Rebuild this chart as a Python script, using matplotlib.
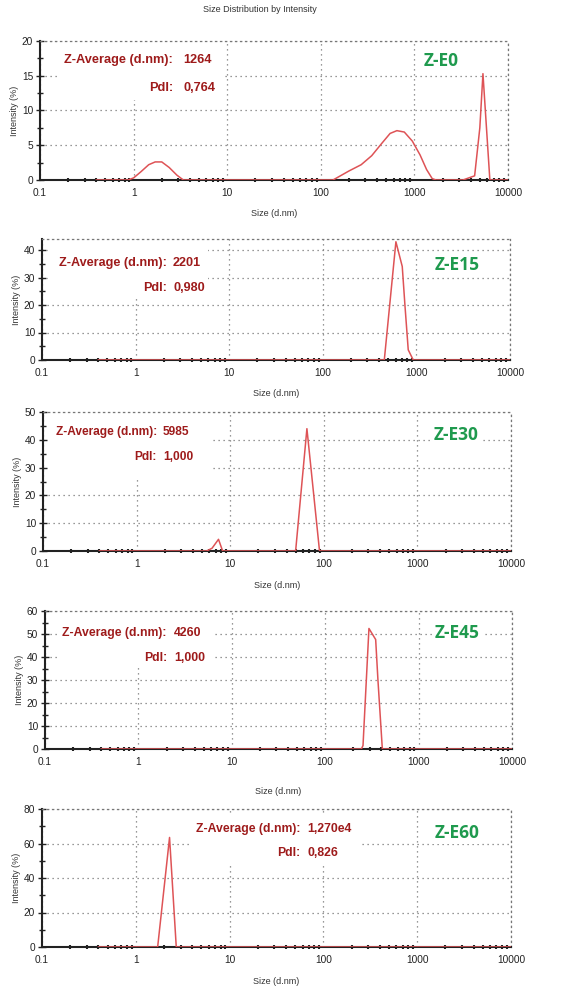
import matplotlib
matplotlib.use('Agg')
import matplotlib.pyplot as plt
from matplotlib.patches import Rectangle
from matplotlib.ticker import MultipleLocator, LogLocator, FixedFormatter, FixedLocator

# --- data (size in d.nm, intensity in %) ---
size_e0 = [0.4, 0.87, 1.0, 1.2, 1.45, 1.7, 2.0, 2.4, 2.9, 3.4, 135, 200, 270, 350, 450, 550, 650, 780, 950,
           1150, 1350, 1550, 1700, 3300, 4400, 5000, 5400, 6400, 10000]
int_e0 = [0, 0, 0.3, 1.2, 2.2, 2.6, 2.6, 1.8, 0.7, 0, 0, 1.3, 2.2, 3.5, 5.3, 6.7, 7.1, 6.9, 5.6,
          3.6, 1.5, 0.2, 0, 0, 0.6, 7.5, 15.3, 0, 0]

size_e15 = [0.4, 454, 604, 706, 754, 818, 925, 10000]
int_e15 = [0, 0, 43, 34, 20, 3.7, 0, 0]

size_e30 = [0.4, 5.6, 6.4, 7.5, 8.3, 50, 66, 90, 10000]
int_e30 = [0, 0, 1, 4.2, 0, 0, 44, 0, 0]

size_e45 = [0.4, 244, 254, 294, 347, 367, 409, 10000]
int_e45 = [0, 0, 1.5, 52.4, 47.6, 30, 0, 0]

size_e60 = [0.4, 1.71, 2.29, 2.70, 10000]
int_e60 = [0, 0, 63.5, 0, 0]

names = ['Z-E0', 'Z-E15', 'Z-E30', 'Z-E45', 'Z-E60']
z_avg = ['1264', '2201', '5985', '4260', '1,270e4']
pdi = ['0,764', '0,980', '1,000', '1,000', '0,826']
y_max = [20, 44, 50, 60, 80]
y_major = [5, 10, 10, 10, 20]

x_ticks = [0.1, 1, 10, 100, 1000, 10000]
x_tick_labels = ['0.1', '1', '10', '100', '1000', '10000']

sizes = [size_e0, size_e15, size_e30, size_e45, size_e60]
intens = [int_e0, int_e15, int_e30, int_e45, int_e60]

# layout in pixels of the 572x992 picture: (left, right, top, bottom)
W, H = 572, 992
axes_px = [(40, 508, 41, 180), (42, 510, 239, 360), (43, 511, 412, 551), (45, 512, 611, 749), (42, 511, 809, 947)]
# label text: (right edge of labels, y of first line, y of second line, gap to value, font size)
label_px = [(173, 60, 88, 10, 9.2), (167, 263, 288, 6, 9.1), (157, 432, 457, 6, 8.6),
            (167, 633, 658, 7, 8.8), (300, 829, 853, 7, 8.8)]
# white box behind labels: (x0, y0, x1, y1)
box_px = [(58, 42, 225, 100), (48, 240, 208, 298), (48, 413, 210, 478), (60, 612, 212, 668), (190, 815, 362, 866)]
name_px = [(441, 61), (457, 265), (456, 435), (457, 633), (457, 833)]
xlabel_y = [213, 394, 585, 792, 981]

plt.rcParams['font.family'] = ['Liberation Sans', 'DejaVu Sans']

fig = plt.figure(figsize=(W / 100, H / 100), dpi=100)
fig.text(260 / W, 1 - 10 / H, 'Size Distribution by Intensity', ha='center', va='center', fontsize=6.5, color='#333333')

def fx(x):
    return x / W

def fy(y):
    return 1 - y / H

for i in range(5):
    l, r, t, b = axes_px[i]
    ax = fig.add_axes([fx(l), fy(b), (r - l) / W, (b - t) / H])
    ax.set_axisbelow(True)
    ax.plot(sizes[i], intens[i], color='#de5356', lw=1.1, zorder=3)
    ax.set_xscale('log')
    ax.set_xlim(0.1, 10000)
    ax.set_ylim(0, y_max[i])

    ax.xaxis.set_major_locator(FixedLocator(x_ticks))
    ax.xaxis.set_major_formatter(FixedFormatter(x_tick_labels))
    ax.xaxis.set_minor_locator(LogLocator(base=10, subs=range(2, 10)))
    ax.yaxis.set_major_locator(MultipleLocator(y_major[i]))
    ax.yaxis.set_minor_locator(MultipleLocator(y_major[i] / 2))

    ax.tick_params(axis='both', which='both', direction='inout', colors='#222222', labelsize=7.3)
    ax.tick_params(axis='x', which='major', length=0, pad=6)
    ax.tick_params(axis='x', which='minor', length=3, width=1.5)
    ax.tick_params(axis='y', which='major', length=6, width=1, pad=2)
    ax.tick_params(axis='y', which='minor', length=4, width=1)

    ax.grid(True, which='major', color='#777777', linestyle=(0, (1, 3)), lw=0.9)
    for s in ['left', 'bottom']:
        ax.spines[s].set_color('#222222')
        ax.spines[s].set_linewidth(1.5)
    for s in ['top', 'right']:
        ax.spines[s].set_color('#777777')
        ax.spines[s].set_linestyle((0, (1, 3)))
        ax.spines[s].set_linewidth(0.9)

    ax.set_ylabel('Intensity (%)', fontsize=6.5, color='#333333', labelpad=2)
    fig.text(fx((l + r) / 2), fy(xlabel_y[i]), 'Size (d.nm)', ha='center', va='center', fontsize=6.5, color='#333333')

    # white box behind the Z-Average / PdI text
    x0, y0, x1, y1 = box_px[i]
    ax.add_patch(Rectangle((fx(x0), fy(y1)), (x1 - x0) / W, (y1 - y0) / H, transform=fig.transFigure,
                           facecolor='white', edgecolor='none', zorder=1))

    lx, ly1, ly2, gap, fs = label_px[i]
    red = '#9e1b1b'
    fig.text(fx(lx), fy(ly1), 'Z-Average (d.nm):', ha='right', va='center', fontsize=fs, fontweight='bold', color=red)
    fig.text(fx(lx + gap), fy(ly1), z_avg[i], ha='left', va='center', fontsize=fs, fontweight='bold', color=red)
    fig.text(fx(lx), fy(ly2), 'PdI:', ha='right', va='center', fontsize=fs, fontweight='bold', color=red)
    fig.text(fx(lx + gap), fy(ly2), pdi[i], ha='left', va='center', fontsize=fs, fontweight='bold', color=red)

    nx, ny = name_px[i]
    fig.text(fx(nx), fy(ny), names[i], ha='center', va='center', fontsize=12.5, fontweight='bold', color='#1f9a4e',
             family=['Open Sans', 'DejaVu Sans'],
             bbox=dict(facecolor='white', edgecolor='none', pad=1.5))

fig.savefig('out.png', dpi=100)
